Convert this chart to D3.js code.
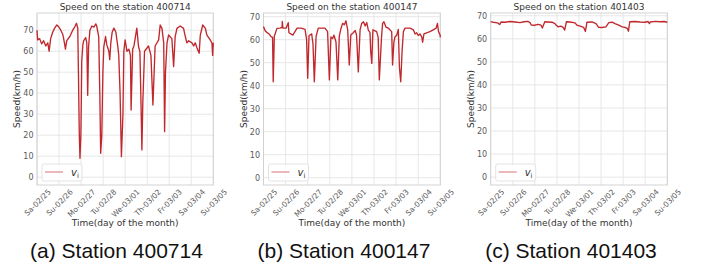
<!DOCTYPE html>
<html>
<head>
<meta charset="utf-8">
<script src="https://cdn.jsdelivr.net/npm/d3@7"></script>
<style>
  body { margin: 0; background: #fff; }
  svg { display: block; }
</style>
</head>
<body>
<svg id="chart" width="701" height="270"></svg>
<script>
// tick labels on the time axis, one per day
const dayLabels = ['Sa-02/25', 'Su-02/26', 'Mo-02/27', 'Tu-02/28', 'We-03/01',
  'Th-03/02', 'Fr-03/03', 'Sa-03/04', 'Su-03/05'];
const yTicks = [0, 10, 20, 30, 40, 50, 60, 70];

// station 400714 : time (days since Sa-02/25) and speed (km/h)
const tA = [0.00, 0.03, 0.12, 0.21, 0.30, 0.40, 0.49, 0.55, 0.62, 0.71, 0.80, 0.90, 0.99,
  1.08, 1.17, 1.21, 1.26, 1.29, 1.35, 1.49, 1.62, 1.71, 1.79, 1.85, 1.88, 1.92, 1.95, 1.99,
  2.01, 2.03, 2.08, 2.12, 2.21, 2.26, 2.30, 2.34, 2.40, 2.49, 2.58, 2.67, 2.71, 2.80, 2.85,
  2.89, 2.94, 2.99, 3.03, 3.11, 3.17, 3.26, 3.30, 3.35, 3.41, 3.49, 3.58, 3.67, 3.71, 3.77,
  3.83, 3.90, 3.94, 4.00, 4.08, 4.17, 4.24, 4.27, 4.34, 4.40, 4.53, 4.61, 4.67, 4.71, 4.76,
  4.80, 4.88, 5.06, 5.17, 5.26, 5.36, 5.52, 5.59, 5.67, 5.75, 5.79, 5.83, 5.90, 5.97, 6.12,
  6.20, 6.27, 6.35, 6.50, 6.65, 6.73, 6.80, 6.88, 7.03, 7.11, 7.18, 7.26, 7.36, 7.41, 7.52,
  7.64, 7.71, 7.86, 7.94, 7.97, 8.00];
const vA = [70.0, 65.4, 66.0, 63.5, 65.0, 62.5, 64.0, 60.0, 66.0, 69.0, 71.0, 72.5, 71.5,
  70.0, 68.0, 66.0, 63.0, 61.0, 65.0, 67.0, 70.0, 71.5, 73.3, 71.0, 50.0, 20.0, 9.0, 20.0,
  35.0, 55.0, 63.0, 65.0, 66.5, 64.0, 39.0, 62.0, 70.0, 72.0, 71.5, 73.0, 72.0, 67.0, 40.0,
  11.4, 20.0, 50.0, 62.0, 67.0, 63.0, 60.0, 56.0, 64.0, 69.0, 71.0, 69.0, 62.0, 58.0, 40.0,
  9.8, 30.0, 60.0, 65.4, 60.0, 61.0, 58.0, 32.0, 61.0, 62.5, 71.0, 62.0, 59.8, 40.0, 13.0,
  35.0, 60.0, 62.5, 58.0, 34.4, 62.5, 65.4, 72.5, 70.9, 64.0, 21.7, 50.0, 64.0, 67.7, 66.0,
  52.7, 67.0, 70.9, 72.0, 70.9, 67.0, 64.0, 65.0, 64.0, 62.5, 64.0, 61.5, 59.0, 67.7, 72.5,
  70.9, 67.7, 65.4, 63.8, 58.0, 64.0];

// station 400147
const tB = [0.00, 0.07, 0.11, 0.25, 0.34, 0.41, 0.44, 0.49, 0.61, 0.75, 0.84, 0.85, 0.88,
  1.02, 1.12, 1.15, 1.24, 1.33, 1.39, 1.52, 1.70, 1.88, 1.95, 2.00, 2.06, 2.18, 2.24, 2.30,
  2.38, 2.48, 2.78, 2.90, 2.98, 3.05, 3.13, 3.19, 3.28, 3.36, 3.43, 3.51, 3.58, 3.66, 3.73,
  3.81, 3.88, 3.95, 4.06, 4.15, 4.21, 4.29, 4.37, 4.44, 4.52, 4.60, 4.67, 4.74, 4.82, 4.85,
  4.90, 4.95, 5.12, 5.19, 5.24, 5.34, 5.39, 5.45, 5.54, 5.65, 5.80, 5.84, 5.90, 5.95, 6.03,
  6.10, 6.15, 6.21, 6.27, 6.33, 6.40, 6.63, 6.78, 6.86, 6.93, 7.00, 7.08, 7.16, 7.20, 7.26,
  7.38, 7.53, 7.68, 7.81, 7.87, 7.92, 7.99, 8.00];
const vB = [65.7, 64.0, 63.5, 62.5, 61.3, 61.0, 41.7, 61.5, 64.9, 65.0, 65.3, 67.9, 65.0,
  65.0, 67.4, 63.0, 62.5, 62.0, 63.0, 65.0, 65.0, 64.5, 60.0, 43.2, 61.7, 62.5, 58.0, 41.7,
  61.5, 65.0, 65.0, 63.5, 42.5, 61.2, 60.5, 62.0, 59.0, 42.5, 61.5, 65.0, 67.1, 66.5, 68.2,
  64.3, 49.0, 62.0, 63.0, 64.0, 62.0, 46.0, 64.3, 67.0, 67.8, 66.0, 67.5, 64.3, 63.0, 55.0,
  49.7, 64.3, 63.5, 61.0, 42.5, 61.0, 67.1, 67.8, 65.5, 65.0, 63.5, 49.0, 58.9, 61.2, 62.0,
  64.5, 48.0, 41.7, 55.0, 63.5, 65.0, 65.0, 64.3, 62.5, 63.0, 61.8, 62.5, 61.2, 58.9, 62.5,
  63.0, 63.5, 64.3, 65.0, 67.1, 63.5, 62.0, 61.0];

// station 401403
const tC = [0.00, 0.10, 0.24, 0.33, 0.41, 0.47, 0.65, 0.87, 1.10, 1.33, 1.51, 1.68, 1.78,
  1.84, 2.01, 2.14, 2.28, 2.34, 2.45, 2.60, 2.78, 2.91, 2.97, 3.05, 3.18, 3.28, 3.35, 3.43,
  3.59, 3.82, 3.91, 4.05, 4.21, 4.29, 4.36, 4.59, 4.77, 4.89, 5.04, 5.22, 5.35, 5.50, 5.63,
  5.80, 5.96, 6.10, 6.19, 6.24, 6.30, 6.54, 6.76, 6.99, 7.13, 7.19, 7.23, 7.44, 7.67, 7.86,
  8.00];
const vC = [67.5, 67.2, 67.0, 66.8, 66.2, 67.3, 67.2, 67.5, 67.3, 67.0, 67.4, 67.6, 67.0,
  66.0, 65.9, 66.3, 65.9, 64.7, 67.4, 67.3, 67.2, 66.6, 65.9, 65.2, 65.5, 65.0, 63.8, 67.4,
  67.3, 66.9, 65.9, 65.5, 65.0, 63.2, 67.2, 67.3, 66.6, 65.0, 64.9, 65.2, 67.0, 67.2, 66.6,
  65.9, 65.2, 64.9, 64.5, 63.3, 67.4, 67.5, 67.3, 67.2, 67.5, 66.6, 67.3, 67.6, 67.4, 67.5,
  67.2];

const panels = [
  {tag: '(a)', station: '400714', t: tA, v: vA, left: 37, right: 213.3, yMin: -3.7, yMax: 78.2, capX: 116.5},
  {tag: '(b)', station: '400147', t: tB, v: vB, left: 263.5, right: 440.3, yMin: -3.2, yMax: 71.6, capX: 344},
  {tag: '(c)', station: '401403', t: tC, v: vC, left: 490.7, right: 667.3, yMin: -3.4, yMax: 71.2, capX: 571}
];

const plotTop = 13, plotBottom = 185;
const lineColor = '#c0282d';
const svg = d3.select('#chart');

panels.forEach(p => {
  const x = d3.scaleLinear().domain([0, dayLabels.length - 1]).range([p.left, p.right]);
  const y = d3.scaleLinear().domain([p.yMin, p.yMax]).range([plotBottom, plotTop]);
  const g = svg.append('g');

  // grid
  g.selectAll('.vgrid').data(d3.range(dayLabels.length)).join('line')
    .attr('x1', d => x(d)).attr('x2', d => x(d))
    .attr('y1', plotTop).attr('y2', plotBottom)
    .attr('stroke', '#e4e4e4').attr('stroke-width', 0.9);
  g.selectAll('.hgrid').data(yTicks).join('line')
    .attr('x1', p.left).attr('x2', p.right)
    .attr('y1', d => y(d)).attr('y2', d => y(d))
    .attr('stroke', '#e4e4e4').attr('stroke-width', 0.9);

  // frame
  g.append('rect')
    .attr('x', p.left).attr('y', plotTop)
    .attr('width', p.right - p.left).attr('height', plotBottom - plotTop)
    .attr('fill', 'none').attr('stroke', '#cfcfcf').attr('stroke-width', 0.9);

  // y axis
  const yAxis = g.append('g')
    .attr('transform', `translate(${p.left},0)`)
    .call(d3.axisLeft(y).tickValues(yTicks).tickSize(0).tickPadding(3.5));
  yAxis.select('.domain').remove();
  yAxis.selectAll('text')
    .attr('font-family', 'DejaVu Sans').attr('font-size', 8).attr('fill', '#595959');

  // x axis, labels turned 45deg and centred on the tick like matplotlib
  const xAxis = g.append('g')
    .attr('transform', `translate(0,${plotBottom})`)
    .call(d3.axisBottom(x).tickValues(d3.range(dayLabels.length)).tickFormat(i => dayLabels[i]).tickSize(0));
  xAxis.select('.domain').remove();
  xAxis.selectAll('text')
    .attr('font-family', 'DejaVu Sans').attr('font-size', 7.5).attr('fill', '#595959')
    .attr('text-anchor', 'middle').attr('dy', '0.35em').attr('y', 0)
    .attr('transform', function() {
      const len = this.getComputedTextLength();
      const h = 7.5 * 1.16;
      const half = (len + h) * Math.SQRT1_2 / 2;
      return `translate(0,${2.5 + half}) rotate(-45)`;
    });

  // series
  const line = d3.line()
    .x(i => x(p.t[i]))
    .y(i => y(p.v[i]));
  g.append('path')
    .datum(d3.range(p.t.length))
    .attr('d', line)
    .attr('fill', 'none')
    .attr('stroke', lineColor)
    .attr('stroke-width', 1.35)
    .attr('stroke-linejoin', 'round');

  // title
  g.append('text')
    .attr('x', (p.left + p.right) / 2).attr('y', 10)
    .attr('text-anchor', 'middle')
    .attr('font-family', 'DejaVu Sans').attr('font-size', 9).attr('fill', '#333')
    .text('Speed on the station ' + p.station);

  // axis labels
  g.append('text')
    .attr('transform', `translate(${p.left - 17},${(plotTop + plotBottom) / 2}) rotate(-90)`)
    .attr('text-anchor', 'middle')
    .attr('font-family', 'DejaVu Sans').attr('font-size', 9).attr('fill', '#333')
    .text('Speed(km/h)');
  g.append('text')
    .attr('x', (p.left + p.right) / 2).attr('y', 226)
    .attr('text-anchor', 'middle')
    .attr('font-family', 'DejaVu Sans').attr('font-size', 9).attr('fill', '#333')
    .text('Time(day of the month)');

  // legend
  const lg = g.append('g').attr('transform', `translate(${p.left + 5},164)`);
  lg.append('rect')
    .attr('width', 40).attr('height', 17).attr('rx', 2)
    .attr('fill', '#fff').attr('fill-opacity', 0.8)
    .attr('stroke', '#dcdcdc').attr('stroke-width', 0.8);
  lg.append('line')
    .attr('x1', 3).attr('x2', 21).attr('y1', 8).attr('y2', 8)
    .attr('stroke', lineColor).attr('stroke-opacity', 0.6).attr('stroke-width', 1.1);
  const lt = lg.append('text')
    .attr('x', 29).attr('y', 11.5)
    .attr('font-family', 'DejaVu Sans').attr('font-size', 10).attr('fill', '#333');
  lt.append('tspan').attr('font-style', 'italic').text('v');
  lt.append('tspan').attr('font-size', 7).attr('dy', 2).text('i');

  // caption
  svg.append('text')
    .attr('x', p.capX).attr('y', 258)
    .attr('text-anchor', 'middle')
    .attr('font-family', 'Liberation Sans, Arial, sans-serif').attr('font-size', 21).attr('fill', '#111')
    .text(p.tag + ' Station ' + p.station);
});
</script>
</body>
</html>
